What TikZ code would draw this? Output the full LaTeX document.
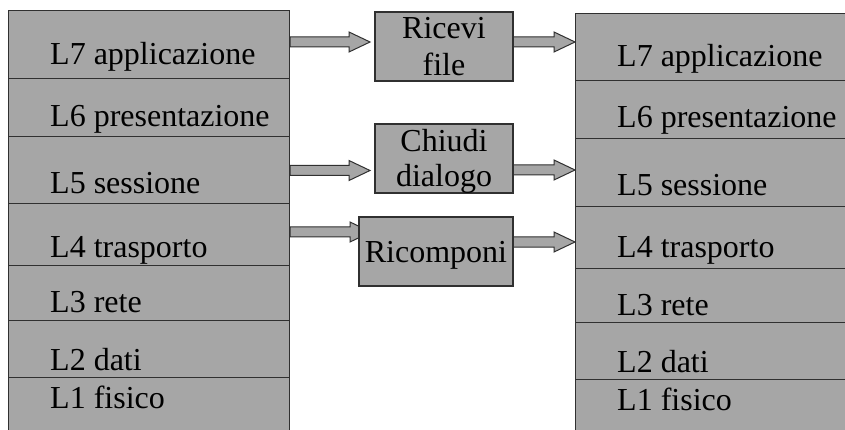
\documentclass[tikz,border=0pt]{standalone}
\usepackage{fontspec}
\setmainfont{Liberation Serif}
\usetikzlibrary{calc}
\definecolor{boxgray}{HTML}{A6A6A6}
\definecolor{edge}{HTML}{303030}
\tikzset{
  row/.style={draw=edge, fill=boxgray, line width=1.2pt, rectangle, inner sep=0pt, anchor=north west},
  procbox/.style={draw=edge, fill=boxgray, line width=1.2pt, rectangle, inner sep=0pt},
  lbl/.style={font=\fontsize{32}{37}\selectfont, inner sep=0pt, anchor=base west},
  blbl/.style={font=\fontsize{32}{37}\selectfont, inner sep=0pt, anchor=base},
  fatarrow/.style={draw=edge, fill=boxgray, line width=1pt, line join=miter}
}
\newcommand\blockarrow[2]{%
  \path[fatarrow] let \p1=(#1), \p2=(#2) in
    (\x1,\y1-5pt) -- (\x2-21pt,\y1-5pt) -- (\x2-21pt,\y1-10pt) -- (\x2,\y1)
    -- (\x2-21pt,\y1+10pt) -- (\x2-21pt,\y1+5pt) -- (\x1,\y1+5pt) -- cycle;}
\begin{document}
\begin{tikzpicture}[x=1pt,y=-1pt]
\clip (0,0) rectangle (845,430);
\fill[white] (0,0) rectangle (845,430);
% left stack
\node[row, minimum width=281pt, minimum height=68pt] (lL7) at (8,10) {};
\node[row, minimum width=281pt, minimum height=58pt] (lL6) at (8,78) {};
\node[row, minimum width=281pt, minimum height=67pt] (lL5) at (8,136) {};
\node[row, minimum width=281pt, minimum height=62pt] (lL4) at (8,203) {};
\node[row, minimum width=281pt, minimum height=55pt] (lL3) at (8,265) {};
\node[row, minimum width=281pt, minimum height=57pt] (lL2) at (8,320) {};
\node[row, minimum width=281pt, minimum height=63pt] (lL1) at (8,377) {};
\node[lbl] (tlL7) at (50,65) {L7 applicazione};
\node[lbl] (tlL6) at (50,127) {L6 presentazione};
\node[lbl] (tlL5) at (50,194) {L5 sessione};
\node[lbl] (tlL4) at (50,257) {L4 trasporto};
\node[lbl] (tlL3) at (50,312) {L3 rete};
\node[lbl] (tlL2) at (50,370) {L2 dati};
\node[lbl] (tlL1) at (50,408) {L1 fisico};
% right stack
\node[row, minimum width=275pt, minimum height=67.3pt] (rL7) at (575,12.7) {};
\node[row, minimum width=275pt, minimum height=58pt] (rL6) at (575,80) {};
\node[row, minimum width=275pt, minimum height=68pt] (rL5) at (575,138) {};
\node[row, minimum width=275pt, minimum height=62pt] (rL4) at (575,206) {};
\node[row, minimum width=275pt, minimum height=54pt] (rL3) at (575,268) {};
\node[row, minimum width=275pt, minimum height=57pt] (rL2) at (575,322) {};
\node[row, minimum width=275pt, minimum height=61pt] (rL1) at (575,379) {};
\node[lbl] (trL7) at (617,67) {L7 applicazione};
\node[lbl] (trL6) at (617,128) {L6 presentazione};
\node[lbl] (trL5) at (617,196) {L5 sessione};
\node[lbl] (trL4) at (617,258) {L4 trasporto};
\node[lbl] (trL3) at (617,315) {L3 rete};
\node[lbl] (trL2) at (617,372) {L2 dati};
\node[lbl] (trL1) at (617,410) {L1 fisico};
% arrow end points
\coordinate (a1s) at (lL7.east |- 0,42);
\coordinate (a1e) at (370,42);
\coordinate (a2s) at (513,42);
\coordinate (a2e) at (rL7.west |- 0,42);
\coordinate (a3s) at (lL5.east |- 0,170.5);
\coordinate (a3e) at (370,170.5);
\coordinate (a4s) at (513,170);
\coordinate (a4e) at (rL5.west |- 0,170);
\coordinate (a5s) at (lL4.east |- 0,232);
\coordinate (a5e) at (371,232);
\coordinate (a6s) at (513,242);
\coordinate (a6e) at (rL4.west |- 0,242);
\blockarrow{a1s}{a1e}
\blockarrow{a2s}{a2e}
\blockarrow{a3s}{a3e}
\blockarrow{a4s}{a4e}
\blockarrow{a5s}{a5e}
\blockarrow{a6s}{a6e}
% middle boxes
\node[procbox, minimum width=138pt, minimum height=69pt] (ricevi) at (444,46.5) {};
\node[blbl] (tricevi1) at (444,39) {Ricevi};
\node[blbl] (tricevi2) at (444,76) {file};
\node[procbox, minimum width=138pt, minimum height=69pt] (chiudi) at (444,158.5) {};
\node[blbl] (tchiudi1) at (444,152) {Chiudi};
\node[blbl] (tchiudi2) at (444,187) {dialogo};
\node[procbox, minimum width=154pt, minimum height=69pt] (ricomponi) at (436,251.5) {};
\node[blbl] (tricomponi) at (436,262) {Ricomponi};
\end{tikzpicture}
\end{document}
